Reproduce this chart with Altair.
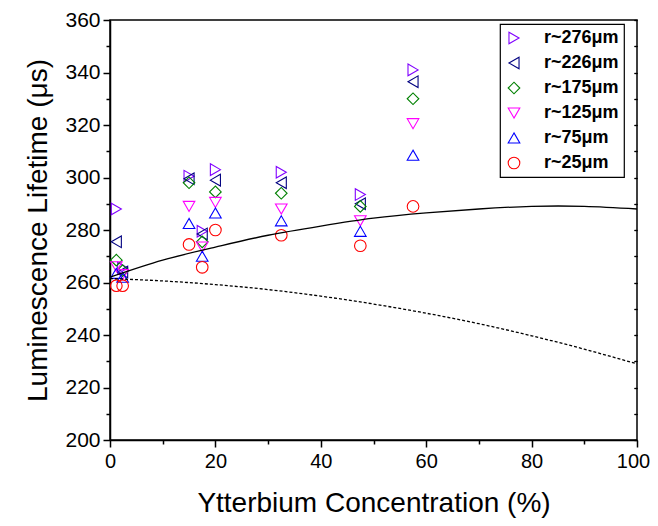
import altair as alt
import pandas as pd

# ---- data ----
series = ["r~276μm", "r~226μm", "r~175μm", "r~125μm", "r~75μm", "r~25μm"]
colors = ["#8000FF", "#000080", "#008000", "#FF00FF", "#0000FF", "#FF0000"]
shapes = ["triangle-right", "triangle-left", "diamond", "triangle-down", "triangle-up", "circle"]

conc = [1.2, 2.4, 15, 17.5, 20, 32.5, 47.5, 57.5]
r276 = [288.0, 265.5, 300.5, 279.5, 303.0, 302.0, 293.5, 341.0]
r226 = [275.5, 264.0, 299.5, 278.5, 299.0, 298.0, 290.0, 336.5]
r175 = [268.5, 264.5, 298.0, 275.5, 294.5, 294.0, 289.0, 330.0]
r125 = [266.0, 263.0, 289.0, 273.5, 290.5, 288.0, 283.5, 320.5]
r75 = [263.5, 262.0, 282.5, 270.0, 286.5, 283.5, 279.5, 308.5]
r25 = [258.8, 258.8, 274.5, 265.8, 280.0, 278.0, 274.0, 289.0]

curve_x = [0, 10, 20, 30, 40, 50, 60, 70, 80, 90, 100]
solid_y = [262.0, 268.5, 273.5, 278.0, 281.5, 284.5, 286.5, 288.0, 289.0, 289.0, 288.0]
dotted_y = [261.5, 260.6, 259.2, 257.3, 254.8, 251.8, 248.3, 244.3, 239.7, 234.6, 229.0]

rows = []
for name, vals in zip(series, [r276, r226, r175, r125, r75, r25]):
    for x, y in zip(conc, vals):
        rows.append({"x": x, "y": y, "s": name})
pts = pd.DataFrame(rows)
solid = pd.DataFrame({"x": curve_x, "y": solid_y})
dotted = pd.DataFrame({"x": curve_x, "y": dotted_y})

FONT = "Liberation Sans"
xscale = alt.Scale(domain=[0, 100], nice=False, zero=False)
yscale = alt.Scale(domain=[200, 360], nice=False, zero=False)

tick_size = {"condition": {"test": "datum.value % 20 === 0", "value": 7}, "value": 4}

xaxis = alt.Axis(
    title="Ytterbium Concentration (%)",
    values=list(range(0, 101, 10)),
    labelExpr="datum.value % 20 === 0 ? datum.label : ''",
    labelOffset={"condition": {"test": "datum.value === 100", "value": -4}, "value": 0},
    tickSize=tick_size,
    labelFontSize=20, titleFontSize=28, labelFont=FONT, titleFont=FONT,
    titleFontWeight="normal", labelColor="black", titleColor="black",
    domainColor="black", tickColor="black", domainWidth=1.5, tickWidth=1.5,
    labelPadding=4, titlePadding=18, grid=False, labelFlush=False,
)
yaxis = alt.Axis(
    title="Luminescence Lifetime (μs)",
    values=list(range(200, 361, 10)),
    labelExpr="datum.value % 20 === 0 ? datum.label : ''",
    tickSize=tick_size,
    labelFontSize=21, titleFontSize=28, labelFont=FONT, titleFont=FONT,
    titleFontWeight="normal", labelColor="black", titleColor="black",
    domainColor="black", tickColor="black", domainWidth=1.5, tickWidth=1.5,
    labelPadding=3, titlePadding=12, grid=False, labelFlush=False,
)
yaxis_right = alt.Axis(
    orient="right", title=None, labels=False, domain=False, grid=False,
    values=list(range(200, 361, 10)), tickSize=3, offset=-3,
    tickColor="black", tickWidth=1.2,
)

points = alt.Chart(pts).mark_point(filled=False, size=135, strokeWidth=1.1, opacity=1).encode(
    x=alt.X("x:Q", scale=xscale, axis=xaxis),
    y=alt.Y("y:Q", scale=yscale, axis=yaxis),
    color=alt.Color("s:N", scale=alt.Scale(domain=series, range=colors), title=None),
    shape=alt.Shape("s:N", scale=alt.Scale(domain=series, range=shapes), title=None),
)

solid_line = alt.Chart(solid).mark_line(color="black", strokeWidth=1.3, interpolate="natural").encode(
    x=alt.X("x:Q", scale=xscale, axis=xaxis),
    y=alt.Y("y:Q", scale=yscale, axis=yaxis_right),
)
dotted_line = alt.Chart(dotted).mark_line(color="black", strokeWidth=1.3, strokeDash=[3, 2], interpolate="natural").encode(
    x=alt.X("x:Q", scale=xscale, axis=xaxis),
    y=alt.Y("y:Q", scale=yscale, axis=yaxis_right),
)

chart = alt.layer(points, solid_line, dotted_line).resolve_axis(y="independent").properties(
    width=527, height=420,
    autosize=alt.AutoSizeParams(type="none"),
    padding={"left": 102, "top": 12, "right": 13, "bottom": 78},
).configure_view(
    stroke="black", strokeWidth=1.5
).configure_legend(
    orient="none", legendX=390, legendY=4,
    strokeColor="black", strokeWidth=1.2, fillColor="white", padding=5,
    labelFont=FONT, labelFontSize=18, labelFontWeight="bold", labelColor="black",
    symbolSize=135, symbolStrokeWidth=1.1, labelOffset=21, rowPadding=7,
    symbolFillColor="transparent", cornerRadius=0,
)

chart.save("out.html", embed_options={"renderer": "svg", "actions": False})
